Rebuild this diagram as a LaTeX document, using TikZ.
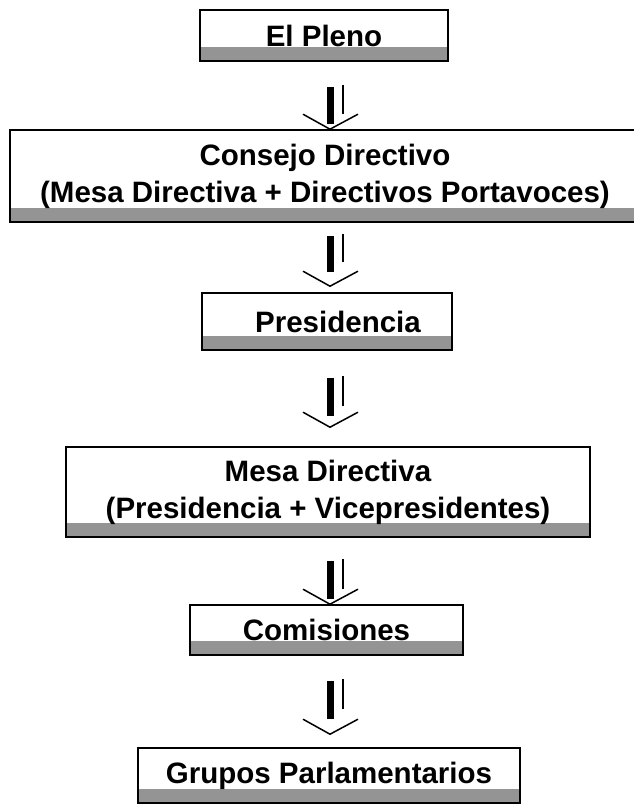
\documentclass[tikz,border=0pt]{standalone}
\usepackage{fontspec}
\setmainfont{Liberation Sans}
\usetikzlibrary{calc}
\newcommand\flowarrow[5]{%
  \draw[arrbar] ($(#1.south -| ax)+(0,#3)$) -- ($(#2.north -| ax)+(0,-#4)$);
  \draw[arrthin] ($(#1.south -| ax)+(13,#3-2)$) -- ($(#2.north -| ax)+(13,-#4-10)$);
  \draw[arrv] ($(#2.north -| ax)+(-27,-#5-15)$) -- ($(#2.north -| ax)+(0,-#5)$) -- ($(#2.north -| ax)+(28,-#5-15)$);
}
\begin{document}
\begin{tikzpicture}[x=1bp,y=-1bp,
  flowbox/.style={draw, line width=1.6bp, fill=white, inner sep=0pt,
    font=\bfseries\fontsize{29.5bp}{37bp}\selectfont, align=center,
    path picture={\fill[black!42] ([yshift=14bp]path picture bounding box.south west) rectangle (path picture bounding box.south east);}},
  arrbar/.style={line width=7bp},
  arrthin/.style={line width=1.5bp},
  arrv/.style={line width=1.5bp, line join=miter}]
\useasboundingbox (0,0) rectangle (634,805);
\coordinate (ax) at (330,0);
\node[flowbox, minimum width=248bp, minimum height=51bp] (pleno) at (324,35.5) {El Pleno};
\node[flowbox, minimum width=630bp, minimum height=92bp] (consejo) at (325,176) {Consejo Directivo\\(Mesa Directiva + Directivos Portavoces)};
\node[flowbox, minimum width=250bp, minimum height=57bp] (pres) at (327,321.5) {\hspace*{22bp}Presidencia};
\node[flowbox, minimum width=524bp, minimum height=90bp] (mesa) at (328,492) {Mesa Directiva\\(Presidencia + Vicepresidentes)};
\node[flowbox, minimum width=273bp, minimum height=50bp] (comis) at (326.5,630) {Comisiones};
\node[flowbox, minimum width=382bp, minimum height=55bp] (grupos) at (329,775.5) {Grupos Parlamentarios};
\flowarrow{pleno}{consejo}{25}{5}{0}
\flowarrow{consejo}{pres}{13}{20}{6}
\flowarrow{pres}{mesa}{27}{30}{19}
\flowarrow{mesa}{comis}{23}{5}{0}
\flowarrow{comis}{grupos}{25}{28}{13}
\end{tikzpicture}
\end{document}
